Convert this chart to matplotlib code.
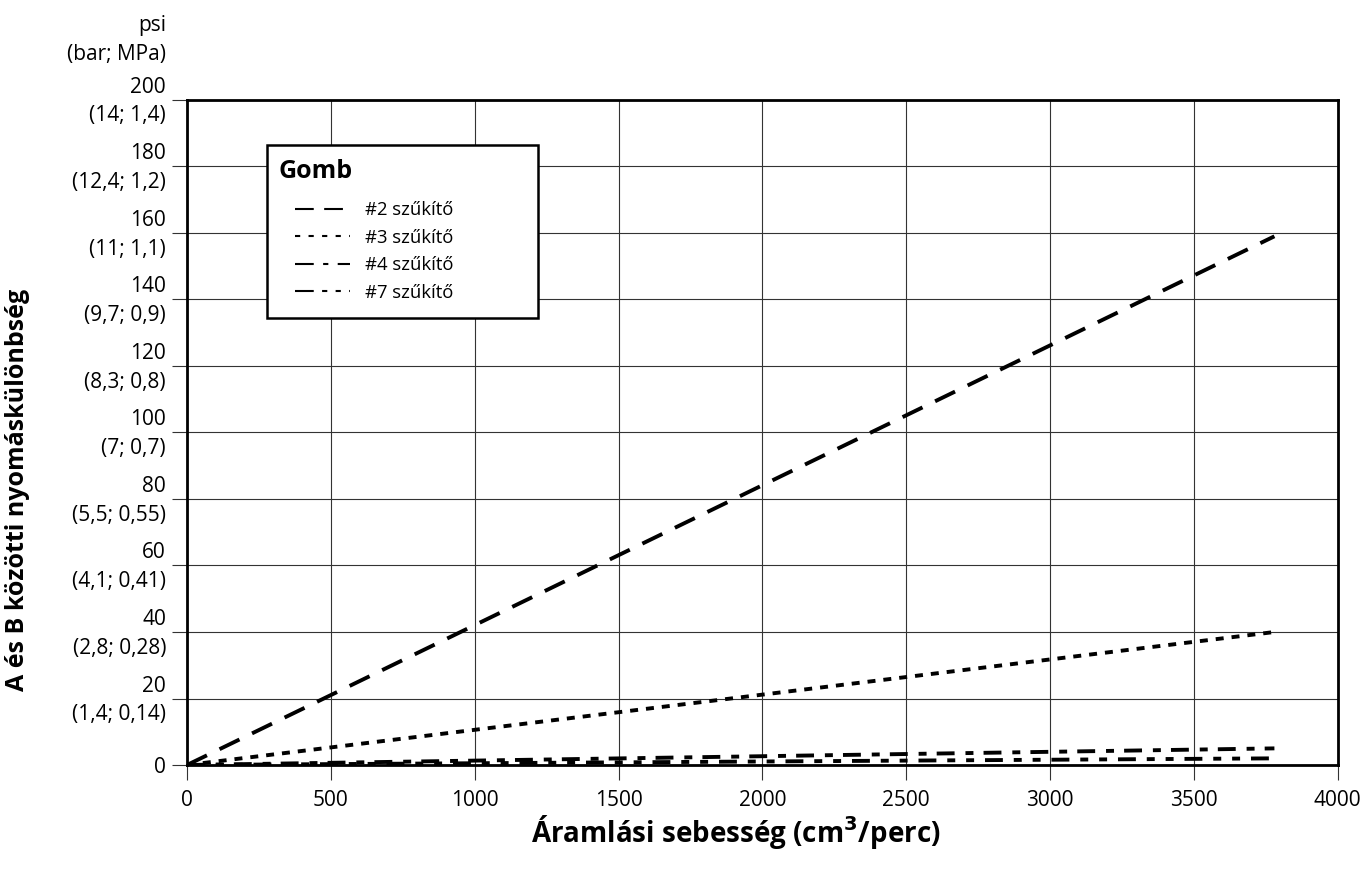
import matplotlib
matplotlib.use("Agg")
import matplotlib.pyplot as plt
import matplotlib.transforms as mtransforms
from matplotlib.lines import Line2D
from matplotlib.patches import Rectangle

plt.rcParams['font.family'] = ['Open Sans', 'DejaVu Sans']

# adatok
aramlas = [0, 3780]
szukito_2 = [0, 159]
szukito_3 = [0, 40]
szukito_4 = [0, 5]
szukito_7 = [0, 2]
nevek = ["#2 szűkítő", "#3 szűkítő", "#4 szűkítő", "#7 szűkítő"]

y_tickek = [0, 20, 40, 60, 80, 100, 120, 140, 160, 180, 200]
y_cimkek = ["0", "20\n(1,4; 0,14)", "40\n(2,8; 0,28)", "60\n(4,1; 0,41)",
            "80\n(5,5; 0,55)", "100\n(7; 0,7)", "120\n(8,3; 0,8)",
            "140\n(9,7; 0,9)", "160\n(11; 1,1)", "180\n(12,4; 1,2)",
            "200\n(14; 1,4)"]
x_tickek = [0, 500, 1000, 1500, 2000, 2500, 3000, 3500, 4000]

# vonalstílusok (vonalvastagság egységben) a grafikonhoz és pontban a jelmagyarázathoz
stilusok = [(0, (5.7, 3.6)), (0, (2.05, 2.05)), (0, (4.6, 2.8, 2.05, 2.6)),
            (0, (4.6, 2.8, 2.05, 2.8, 2.05, 2.8))]
jm_stilusok = [(0, (9, 5)), (0, (2.5, 4)), (0, (9, 4.5, 2.5, 4.5)),
               (0, (9, 4, 2.5, 4, 2.5, 4))]

fig = plt.figure(figsize=(13.65, 8.77), dpi=100)
ax = fig.add_axes([0.137, 0.1277, 0.843, 0.7583])

for y, st in zip([szukito_2, szukito_3, szukito_4, szukito_7], stilusok):
    ax.plot(aramlas, y, color="black", lw=2.8, linestyle=st, dash_capstyle="butt")

ax.set_xlim(0, 4000)
ax.set_ylim(0, 200)
ax.set_xticks(x_tickek)
ax.set_yticks(y_tickek)
ax.set_yticklabels(y_cimkek, linespacing=1.47, ha="right")
ax.tick_params(axis="both", labelsize=15, length=10.8, width=0.8, color="#333333")
ax.tick_params(axis="x", pad=7)
ax.tick_params(axis="y", pad=4.3)
ax.grid(True, color="#333333", lw=0.8)
ax.set_axisbelow(True)
for s in ax.spines.values():
    s.set_linewidth(2)

# a kétsoros címkék kicsit feljebb állnak
eltolas = mtransforms.ScaledTranslation(0, 0.045, fig.dpi_scale_trans)
for lab in ax.get_yticklabels()[1:]:
    lab.set_transform(lab.get_transform() + eltolas)

fig.text(0.539, 0.051, "Áramlási sebesség (cm$^\\mathbf{3}$/perc)", fontsize=20,
         fontweight="bold", ha="center", va="center")
fig.text(0.013, 0.441, "A és B közötti nyomáskülönbség", rotation=90,
         fontsize=18, fontweight="bold", ha="center", va="center")
fig.text(0.1216, 0.9545, "psi\n(bar; MPa)", fontsize=15, ha="right", va="center", linespacing=1.47)

# jelmagyarázat kerettel
ax.add_patch(Rectangle((0.1956, 0.6374), 0.1985, 0.1973, transform=fig.transFigure,
                       facecolor="white", edgecolor="black", lw=1.8, zorder=5, clip_on=False))
ax.text(0.2037, 0.805, "Gomb", transform=fig.transFigure, fontsize=18,
        fontweight="bold", ha="left", va="center", zorder=6)
fogantyuk = [Line2D([], [], color="black", lw=1.5, linestyle=st) for st in jm_stilusok]
leg = ax.legend(fogantyuk, nevek, loc="upper left", bbox_to_anchor=(0.2161, 0.7708),
                bbox_transform=fig.transFigure, fontsize=13.3, handlelength=3.0,
                handletextpad=0.8, frameon=False, borderpad=0, borderaxespad=0,
                labelspacing=0.52)
leg.set_zorder(7)

fig.savefig("out.png", dpi=100)
